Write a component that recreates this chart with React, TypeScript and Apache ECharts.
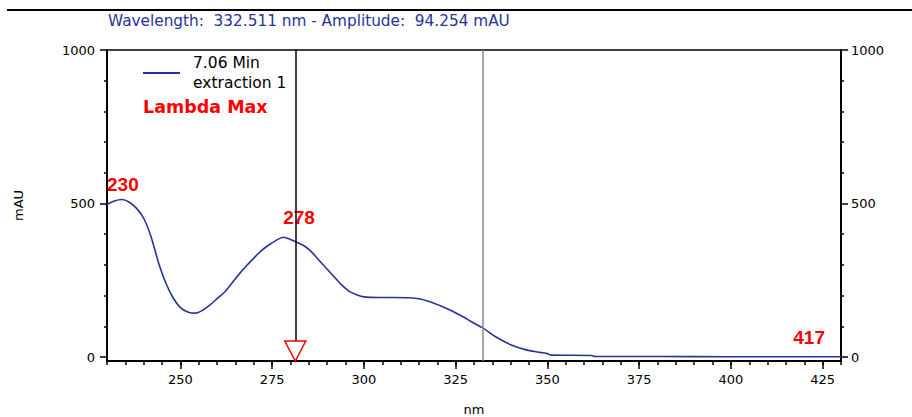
import React, { useEffect, useRef } from 'react';
import * as echarts from 'echarts';

// Spectrum: wavelength (nm) and amplitude (mAU)
const wavelengths = [
  230, 232, 234, 236, 238, 240, 242, 244, 246, 248, 250, 252, 254, 256, 258, 260,
  262, 264, 266, 268, 270, 272, 274, 276, 278, 280, 282, 284, 286, 288, 290, 292,
  294, 296, 298, 300, 304, 308, 312, 315, 318, 321, 324, 327, 330, 332.5, 336, 340,
  344, 348, 350, 351, 362, 363, 380, 400, 430,
];
const absorbance = [
  497, 508, 513, 505, 485, 452, 392, 309, 242, 193, 161, 147, 143, 152, 169, 190,
  211, 240, 270, 297, 322, 346, 364, 379, 390, 383, 372, 360, 339, 312, 286, 260,
  234, 214, 203, 196, 194, 194, 193, 190, 180, 166, 150, 131, 110, 94, 65, 40,
  24, 15, 11, 6, 5, 1.5, 1.5, 1, 1,
];

// Lambda max peak annotations
const peakNm = [230, 278, 417];
const peakAmp = [497, 390, 1];
const peakLabels = ['230', '278', '417'];

// Cursors
const cursorNm = 281.3;
const cursorTopAmp = 1000;
const cursorBottomAmp = 52;
const markerAmp = 19.6;
const selectedNm = 332.511;
const selectedAmp = 94.254;

// Axes
const xMin = 230;
const xMax = 430;
const xMinorInterval = 5;
const xMajorTicks = [250, 275, 300, 325, 350, 375, 400, 425];
const yMin = -13;
const yMax = 1000;
const yMajorTicks = [0, 500, 1000];
const yMinorTicks = [100, 200, 300, 400, 600, 700, 800, 900];

const seriesName = '7.06 Min\nextraction 1';

const FONT = 'DejaVu Sans';
const NAVY = '#28339a';

export default function App() {
  const ref = useRef<HTMLDivElement>(null);

  useEffect(() => {
    document.body.style.margin = '0';
    const chart = echarts.init(ref.current!, null, { renderer: 'svg' });

    const curve = wavelengths.map((w, i) => [w, absorbance[i]]);
    const peaks = peakNm.map((w, i) => ({ name: peakLabels[i], value: [w, peakAmp[i]] }));

    const axisLine = { show: true, onZero: false, lineStyle: { color: '#000', width: 2 } };
    const tickLabel = {
      color: '#000',
      fontFamily: FONT,
      fontSize: 13,
      formatter: (v: number) => String(v),
    };

    const option: any = {
      animation: false,
      backgroundColor: '#fff',
      title: {
        text: `Wavelength:  ${selectedNm} nm - Amplitude:  ${selectedAmp} mAU`,
        left: 108,
        top: 13,
        padding: 0,
        textStyle: { color: NAVY, fontFamily: FONT, fontSize: 15.3, fontWeight: 'normal' },
      },
      legend: {
        data: [seriesName],
        left: 143,
        top: 53,
        padding: 0,
        icon: 'rect',
        itemWidth: 37,
        itemHeight: 2,
        itemStyle: { color: NAVY },
        textStyle: { color: '#000', fontFamily: FONT, fontSize: 15.5, lineHeight: 20, padding: [0, 0, 0, 8] },
      },
      grid: {
        left: 107,
        right: 71,
        top: 50,
        bottom: 56,
        containLabel: false,
        outerBoundsMode: 'none',
        show: true,
        borderColor: '#000',
        borderWidth: 1.5,
        backgroundColor: 'transparent',
      },
      xAxis: [
        {
          type: 'value',
          min: xMin,
          max: xMax,
          position: 'bottom',
          axisLine,
          axisTick: { show: true, inside: false, length: 8, customValues: xMajorTicks, lineStyle: { color: '#000', width: 1.5 } },
          axisLabel: { ...tickLabel, margin: 12, customValues: xMajorTicks },
          splitLine: { show: false },
          name: 'nm',
          nameLocation: 'middle',
          nameGap: 42,
          nameTextStyle: { color: '#000', fontFamily: FONT, fontSize: 13 },
        },
        {
          type: 'value',
          min: xMin,
          max: xMax,
          interval: xMinorInterval,
          position: 'bottom',
          axisLine: { show: false, onZero: false },
          axisTick: { show: true, inside: false, length: 4, lineStyle: { color: '#000', width: 1.5 } },
          axisLabel: { show: false },
          splitLine: { show: false },
        },
      ],
      yAxis: [
        {
          type: 'value',
          min: yMin,
          max: yMax,
          position: 'left',
          axisLine,
          axisTick: { show: true, length: 7, customValues: yMajorTicks, lineStyle: { color: '#000', width: 1.5 } },
          axisLabel: { ...tickLabel, margin: 12, customValues: yMajorTicks },
          splitLine: { show: false },
          name: 'mAU',
          nameLocation: 'middle',
          nameGap: 82,
          nameTextStyle: { color: '#000', fontFamily: FONT, fontSize: 13 },
        },
        {
          type: 'value',
          min: yMin,
          max: yMax,
          position: 'left',
          axisLine: { show: false, onZero: false },
          axisTick: { show: true, length: 3, customValues: yMinorTicks, lineStyle: { color: '#000', width: 1.5 } },
          axisLabel: { show: false },
          splitLine: { show: false },
        },
        {
          type: 'value',
          min: yMin,
          max: yMax,
          position: 'right',
          axisLine,
          axisTick: { show: true, length: 7, customValues: yMajorTicks, lineStyle: { color: '#000', width: 1.5 } },
          axisLabel: { ...tickLabel, margin: 10, customValues: yMajorTicks },
          splitLine: { show: false },
        },
        {
          type: 'value',
          min: yMin,
          max: yMax,
          position: 'right',
          axisLine: { show: false, onZero: false },
          axisTick: { show: true, length: 3, customValues: yMinorTicks, lineStyle: { color: '#000', width: 1.5 } },
          axisLabel: { show: false },
          splitLine: { show: false },
        },
      ],
      series: [
        {
          name: seriesName,
          type: 'line',
          xAxisIndex: 0,
          yAxisIndex: 0,
          data: curve,
          smooth: 0.3,
          symbol: 'none',
          lineStyle: { color: NAVY, width: 1.6 },
          itemStyle: { color: NAVY },
          markLine: {
            silent: true,
            symbol: ['none', 'none'],
            label: { show: false },
            data: [
              [
                { coord: [cursorNm, cursorTopAmp], lineStyle: { color: '#000', width: 1.5, type: 'solid' } },
                { coord: [cursorNm, cursorBottomAmp] },
              ],
              { xAxis: selectedNm, lineStyle: { color: '#8a8a8a', width: 1.5, type: 'solid' } },
            ],
          },
          markPoint: {
            silent: true,
            label: { show: false },
            data: [
              {
                coord: [cursorNm, markerAmp],
                symbol: 'triangle',
                symbolRotate: 180,
                symbolSize: [21, 20],
                itemStyle: { color: '#fff', borderColor: '#ff0000', borderWidth: 1.5 },
              },
            ],
          },
        },
        {
          name: 'Lambda Max',
          type: 'scatter',
          xAxisIndex: 0,
          yAxisIndex: 0,
          data: peaks,
          symbolSize: 0,
          silent: true,
          itemStyle: { opacity: 1, color: '#ff0000' },
          label: {
            show: true,
            formatter: '{b}',
            position: [0, -10],
            align: 'left',
            verticalAlign: 'bottom',
            color: '#ff0000',
            opacity: 1,
            fontFamily: 'Liberation Sans',
            fontWeight: 'bold',
            fontSize: 19,
          },
        },
      ],
      graphic: [
        {
          type: 'line',
          shape: { x1: 7, y1: 10, x2: 912, y2: 10 },
          style: { stroke: '#000', lineWidth: 2 },
        },
        {
          type: 'text',
          x: 143,
          y: 107,
          style: {
            text: 'Lambda Max',
            fill: '#ff0000',
            font: `bold 17.5px "${FONT}"`,
            verticalAlign: 'middle',
          },
        },
      ],
    };

    chart.setOption(option);
    return () => chart.dispose();
  }, []);

  return <div ref={ref} style={{ width: 912, height: 417, background: '#fff' }} />;
}
